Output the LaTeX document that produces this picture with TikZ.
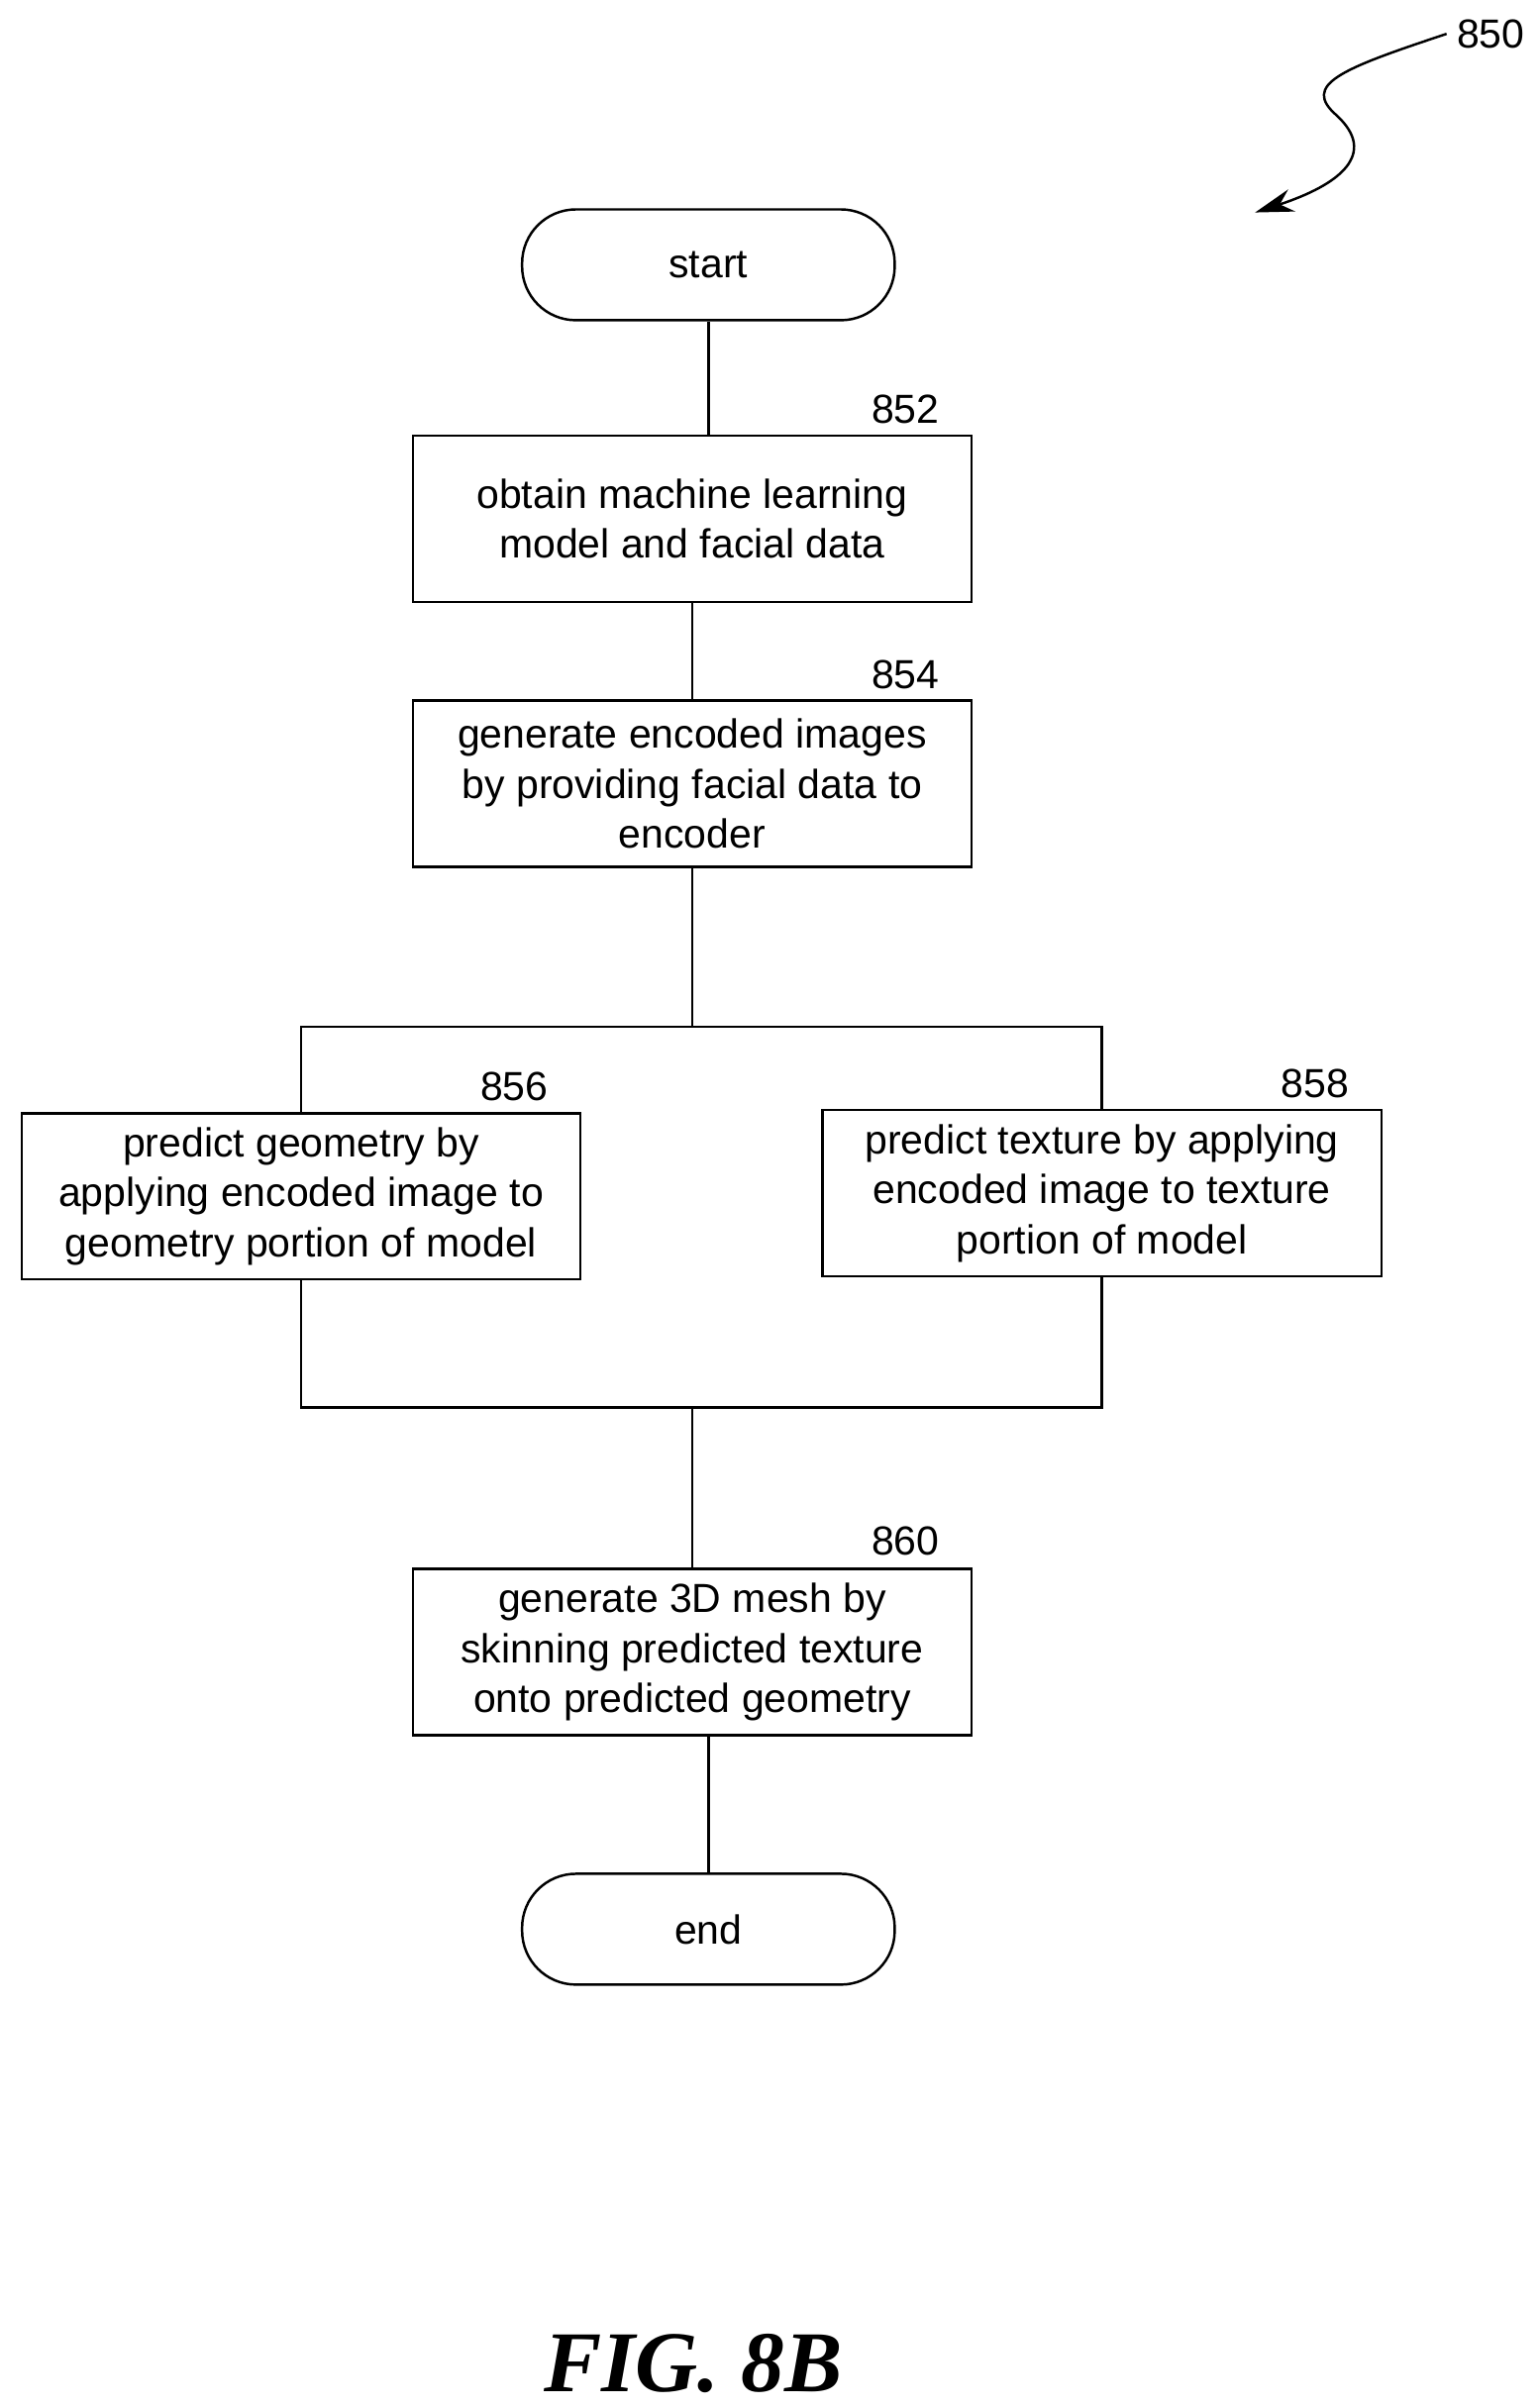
\documentclass[tikz,border=0pt]{standalone}
\usepackage{fontspec}
\setmainfont{Liberation Sans}
\newfontfamily\figfont{Liberation Serif}
\usetikzlibrary{arrows.meta,positioning}
\begin{document}
\begin{tikzpicture}[x=0.02cm,y=-0.02cm,line width=0.9pt,
term/.style ={draw,rounded corners=0.7cm,minimum width=4.84cm,minimum height=1.44cm,font=\fontsize{15}{18}\selectfont},
procbox/.style ={draw,minimum width=7.26cm,minimum height=2.16cm,align=center,font=\fontsize{15}{18.5}\selectfont,inner sep=2pt},
ref/.style ={font=\fontsize{15}{18}\selectfont}]
\useasboundingbox (0,0) rectangle (1000,1564);

\node[term] (start) at (460,172) {start};
\node[procbox] (852) at (449.5,337) {obtain machine learning\\model and facial data};
\node[procbox] (854) at (449.5,509) {generate encoded images\\by providing facial data to\\encoder};
\node[procbox] (856) at (195.5,777) {predict geometry by\\applying encoded image to\\geometry portion of model};
\node[procbox] (858) at (715.5,775) {predict texture by applying\\encoded image to texture\\portion of model};
\node[procbox] (860) at (449.5,1073) {generate 3D mesh by\\skinning predicted texture\\onto predicted geometry};
\node[term] (end) at (460,1253) {end};

\node[ref] (l852) at (588,266) {852};
\node[ref] (l854) at (588,438) {854};
\node[ref] (l856) at (334,706) {856};
\node[ref] (l858) at (854,704) {858};
\node[ref] (l860) at (588,1001) {860};
\node[ref] (l850) at (968,22) {850};

\coordinate (split) at (449.5,667);
\coordinate (join) at (449.5,914);

\draw (start) -- (start |- 852.north);
\draw (852) -- (854);
\draw (854) -- (split);
\draw (split) -| (856.north);
\draw (split) -| (858.north);
\draw (856.south) |- (join);
\draw (858.south) |- (join);
\draw (join) -- (860);
\draw (end |- 860.south) -- (end);

\draw[-{Stealth[length=0.5cm,width=0.3cm]}] (l850.west) .. controls (870,45) and (845,55) .. (868,75)
  .. controls (895,100) and (870,120) .. (815,138);

\node[font=\figfont\bfseries\itshape\fontsize{32}{36}\selectfont] (fig) at (450,1535) {FIG. 8B};
\end{tikzpicture}
\end{document}
